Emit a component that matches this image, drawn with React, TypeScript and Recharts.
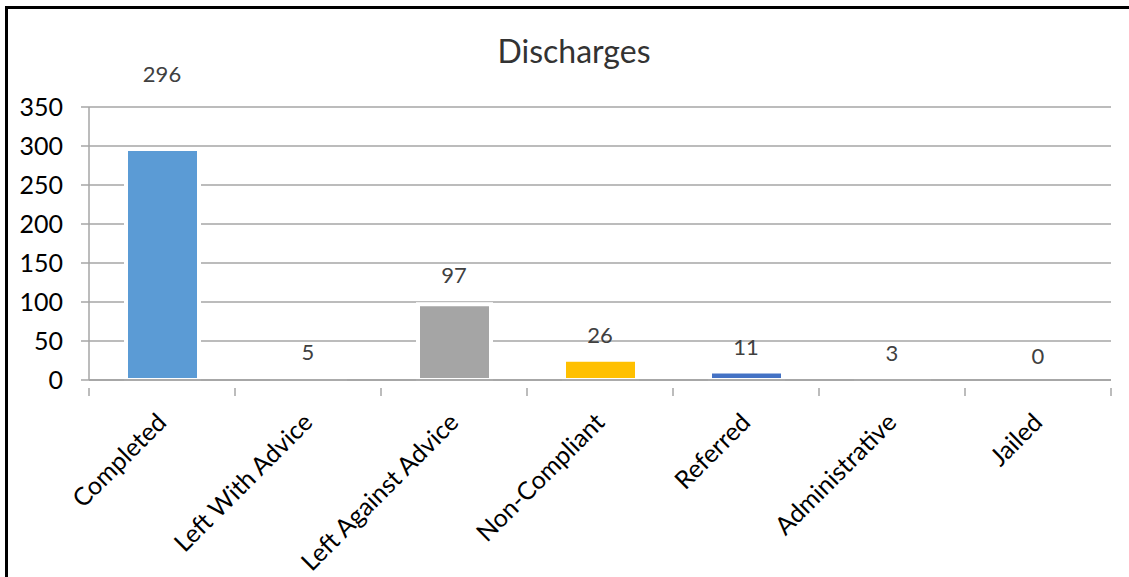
import { Bar, CartesianGrid, Cell, ComposedChart, Line, ReferenceLine, XAxis, YAxis } from "recharts";

const categories = [
  "Completed",
  "Left With Advice",
  "Left Against Advice",
  "Non-Compliant",
  "Referred",
  "Administrative",
  "Jailed",
];
const discharges = [296, 5, 97, 26, 11, 3, 0];
const yTicks = [0, 50, 100, 150, 200, 250, 300, 350];

const barColors = ["#5B9BD5", "#ED7D31", "#A5A5A5", "#FFC000", "#4472C4", "#70AD47", "#264478"];
const FONT = "Lato, 'Open Sans', sans-serif";
const GRID = "#A6A6A6";

const data = categories.map((name, i) => ({ name, value: discharges[i] }));

// category ticks: rotated label plus boundary tick marks like Excel
function CategoryTick(props: any) {
  const { x, y, payload, width, visibleTicksCount, index } = props;
  const half = width / visibleTicksCount / 2;
  const last = index === visibleTicksCount - 1;
  return (
    <g>
      <line x1={x - half} x2={x - half} y1={y} y2={y + 8} stroke={GRID} strokeWidth={1.5} />
      {last && <line x1={x + half} x2={x + half} y1={y} y2={y + 8} stroke={GRID} strokeWidth={1.5} />}
      <g transform={`translate(${x + 6},${y + 36})`}>
        <text transform="rotate(-45)" textAnchor="end" fontSize={25} fontFamily={FONT} fill="#000">
          {payload.value}
        </text>
      </g>
    </g>
  );
}

// value labels drawn as the "dots" of an invisible line at the bar tops,
// lifted further for the tall bars
function ValueLabel(props: any) {
  const { cx, cy, payload } = props;
  if (cx == null || cy == null) return null;
  const v = payload.value;
  const lift = 24 + 0.000585 * v * v;
  return (
    <text
      key={payload.name}
      x={cx}
      y={cy - lift}
      dy="0.35em"
      textAnchor="middle"
      fontSize={22}
      fontFamily={FONT}
      fill="#404040"
    >
      {v}
    </text>
  );
}

export default function App() {
  return (
    <div style={{ position: "relative", width: 1129, height: 577, background: "#fff" }}>
      <style>{`body{margin:0}`}</style>
      <div
        style={{
          position: "absolute",
          left: 5,
          top: 6,
          right: 0,
          bottom: 0,
          borderTop: "3px solid #000",
          borderLeft: "3px solid #000",
        }}
      />
      <ComposedChart
        width={1129}
        height={577}
        data={data}
        margin={{ top: 107, right: 18, bottom: 0, left: 0 }}
        style={{ position: "absolute", left: 0, top: 0 }}
      >
        <text x={574} y={63} textAnchor="middle" fontSize={32} fontFamily={FONT} fill="#333">
          Discharges
        </text>
        <CartesianGrid vertical={false} stroke={GRID} strokeWidth={1.5} />
        <XAxis
          dataKey="name"
          height={197}
          interval={0}
          tickLine={false}
          axisLine={{ stroke: GRID, strokeWidth: 1.5 }}
          tick={<CategoryTick />}
        />
        <YAxis
          width={89}
          domain={[0, 350]}
          ticks={yTicks}
          interval={0}
          tickSize={8}
          tickMargin={18}
          tickLine={{ stroke: GRID, strokeWidth: 1.5 }}
          axisLine={{ stroke: GRID, strokeWidth: 1.5 }}
          tick={{ fontSize: 25, fontFamily: FONT, fill: "#000" }}
        />
        <Bar dataKey="value" barSize={73} stroke="#fff" strokeWidth={4} isAnimationActive={false}>
          {data.map((d, i) => (
            <Cell key={d.name} fill={barColors[i]} />
          ))}
        </Bar>
        <ReferenceLine y={0} stroke={GRID} strokeWidth={1.5} />
        <Line
          dataKey="value"
          stroke="none"
          dot={<ValueLabel />}
          activeDot={false}
          legendType="none"
          isAnimationActive={false}
        />
      </ComposedChart>
    </div>
  );
}
